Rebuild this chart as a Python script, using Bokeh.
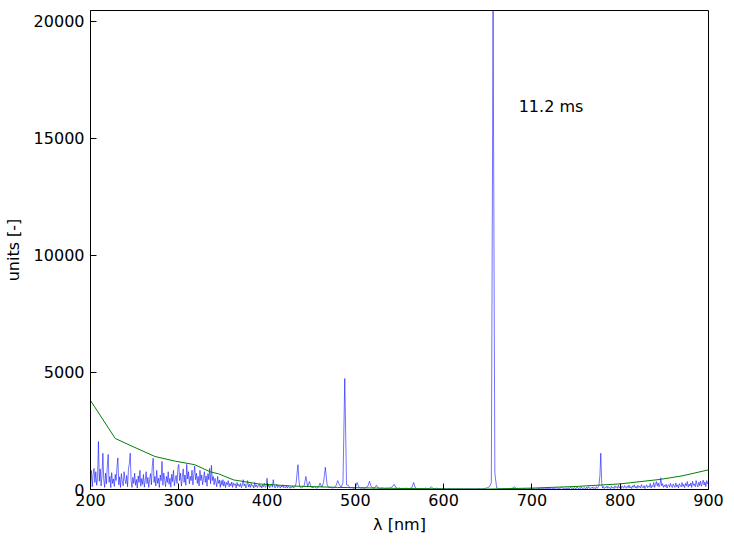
from bokeh.plotting import figure
from bokeh.models import Range1d, FixedTicker, ColumnDataSource
from bokeh.core.properties import value
from bokeh.embed import file_html
from bokeh.resources import INLINE

# ---------------- data ----------------
# segment A: 200..440 nm, 1 nm sampling
seg_a_start, seg_a_step = 200, 1
seg_a_vals = [
    250, 820, 120, 640, 900, 300, 760, 180, 520, 2050,   # 200-209
    350, 880, 150, 600, 1550, 420, 90, 700, 240, 980,    # 210-219
    1500, 310, 560, 80, 720, 260, 450, 130, 640, 380,    # 220-229
    950, 1350, 200, 540, 90, 680, 330, 160, 760, 420,    # 230-239
    250, 600, 120, 880, 1100, 1550, 380, 90, 520, 260,   # 240-249
    700, 180, 430, 60, 580, 300, 820, 140, 470, 220,     # 250-259
    640, 100, 380, 760, 250, 520, 90, 430, 680, 200,     # 260-269
    1000, 1340, 300, 560, 150, 820, 260, 480, 90, 620,   # 270-279
    380, 1200, 180, 700, 420, 120, 560, 300, 760, 220,   # 280-289
    480, 100, 650, 340, 820, 160, 420, 600, 260, 900,    # 290-299
    1070, 380, 700, 140, 520, 880, 300, 620, 180, 1070,  # 300-309
    450, 760, 240, 560, 380, 820, 200, 640, 1000, 420,   # 310-319
    700, 260, 560, 150, 820, 380, 620, 200, 480, 760,    # 320-329
    300, 580, 140, 680, 420, 900, 250, 1030, 380, 560,   # 330-339
    200, 480, 320, 120, 560, 260, 400, 90, 380, 180,     # 340-349
    420, 140, 340, 80, 300, 200, 380, 110, 260, 160,     # 350-359
    320, 90, 280, 180, 240, 60, 300, 150, 220, 120,      # 360-369
    260, 80, 200, 420, 150, 240, 60, 180, 380, 110,      # 370-379
    220, 90, 260, 140, 180, 60, 300, 120, 200, 80,       # 380-389
    160, 240, 100, 180, 60, 200, 120, 260, 90, 150,      # 390-399
    480, 120, 200, 80, 160, 240, 100, 420, 180, 60,      # 400-409
    140, 220, 80, 180, 120, 60, 160, 100, 200, 70,       # 410-419
    120, 80, 160, 60, 140, 100, 50, 120, 80, 150,        # 420-429
    60, 100, 140, 300, 700, 1060, 420, 120, 80, 60,      # 430-439
    100,                                                 # 440
]

# segment B: 442..738 nm, 2 nm sampling
seg_b_start, seg_b_step = 442, 2
seg_b_vals = [
    160, 560, 120, 340, 100, 80, 120, 60, 90, 270,       # 442-460
    100, 300, 950, 200, 80, 100, 60, 90, 150, 380,       # 462-480
    200, 90, 300, 4740, 200, 180, 60, 90, 50, 80,        # 482-500
    300, 100, 60, 80, 50, 90, 120, 350, 120, 60,         # 502-520
    80, 180, 60, 40, 60, 50, 40, 60, 50, 80,             # 522-540
    120, 220, 80, 40, 60, 30, 50, 40, 60, 30,            # 542-560
    50, 80, 300, 60, 40, 30, 50, 30, 40, 60,             # 562-580
    30, 50, 120, 40, 30, 60, 30, 40, 20, 40,             # 582-600
    30, 20, 40, 30, 20, 30, 20, 40, 20, 30,             # 602-620
    20, 30, 20, 40, 20, 30, 20, 30, 20, 40,             # 622-640
    20, 30, 40, 60, 80, 120, 300, 20460, 700, 80,        # 642-660
    40, 30, 20, 40, 30, 20, 30, 40, 60, 120,             # 662-680
    50, 30, 40, 20, 30, 40, 20, 30, 50, 30,              # 682-700
    40, 20, 30, 50, 30, 40, 60, 30, 50, 40,              # 702-720
    60, 30, 50, 70, 40, 60, 80, 40, 60,                  # 722-738
]

# segment C: 740..900 nm, 1 nm sampling
seg_c_start, seg_c_step = 740, 1
seg_c_vals = [
    30, 80, 20, 60, 100, 40, 70, 20, 90, 50,             # 740-749
    30, 110, 60, 20, 80, 40, 120, 50, 30, 90,            # 750-759
    60, 20, 100, 40, 130, 70, 30, 90, 50, 110,           # 760-769
    40, 80, 30, 120, 60, 90, 200, 600, 1550, 300,        # 770-779
    60, 130, 40, 100, 70, 150, 50, 120, 80, 30,          # 780-789
    140, 60, 100, 40, 160, 80, 120, 50, 180, 70,         # 790-799
    110, 40, 150, 90, 60, 170, 100, 50, 140, 80,         # 800-809
    190, 60, 120, 40, 160, 100, 200, 70, 130, 50,        # 810-819
    180, 90, 140, 60, 210, 110, 70, 170, 40, 130,        # 820-829
    200, 80, 150, 100, 260, 60, 170, 120, 300, 90,       # 830-839
    220, 340, 150, 280, 110, 200, 500, 160, 250, 90,     # 840-849
    180, 120, 230, 60, 170, 210, 100, 260, 140, 80,      # 850-859
    240, 150, 90, 280, 120, 200, 60, 250, 170, 110,      # 860-869
    300, 130, 220, 80, 260, 160, 340, 100, 230, 150,     # 870-879
    280, 90, 350, 180, 240, 120, 380, 200, 110, 310,     # 880-889
    170, 360, 140, 260, 400, 190, 320, 120, 380, 240,    # 890-899
    300,                                                 # 900
]

# green reference curve
curve_wl = [200, 228, 247, 273, 296, 318, 336, 345, 362, 390, 428,
            480, 540, 600, 650, 700, 750, 800, 845, 870, 900]
curve_vals = [3800, 2180, 1850, 1410, 1210, 1060, 750, 670, 410, 240, 150,
              90, 50, 25, 20, 60, 130, 240, 430, 580, 840]

x_ticks = [200, 300, 400, 500, 600, 700, 800, 900]
y_ticks = [0, 5000, 10000, 15000, 20000]
x_lim = (200, 900)
y_lim = (0, 20460)
annotation = "11.2 ms"
annotation_pos = (685, 16350)
x_label = "λ [nm]"
y_label = "units [-]"

# ---------------- build ----------------
spec_wl, spec_vals = [], []
for start, step, vals in ((seg_a_start, seg_a_step, seg_a_vals),
                          (seg_b_start, seg_b_step, seg_b_vals),
                          (seg_c_start, seg_c_step, seg_c_vals)):
    for i, v in enumerate(vals):
        spec_wl.append(start + step * i)
        spec_vals.append(v)

FONT = "DejaVu Sans"
FS = "16px"
TICK = 6

p = figure(width=734, height=546, output_backend="svg", toolbar_location=None,
           x_range=Range1d(*x_lim), y_range=Range1d(*y_lim),
           min_border_left=88, min_border_right=26, min_border_top=10, min_border_bottom=57)
p.background_fill_color = "white"
p.border_fill_color = "white"
p.outline_line_color = "black"
p.outline_line_width = 1
p.xgrid.visible = False
p.ygrid.visible = False

p.line(spec_wl, spec_vals, color="#0000ff", alpha=0.55, line_width=1)
p.line(curve_wl, curve_vals, color="#008000", line_width=1)

# inward ticks on the top and right edges (clipped to the frame, so only the inner half shows)
p.rect(x=x_ticks, y=[y_lim[1]] * len(x_ticks), width=0, height=2 * TICK,
       height_units="screen", fill_color=None, line_color="black", line_width=1)
p.rect(x=[x_lim[1]] * len(y_ticks), y=y_ticks, width=2 * TICK, height=0,
       width_units="screen", fill_color=None, line_color="black", line_width=1)

src = ColumnDataSource(dict(x=[annotation_pos[0]], y=[annotation_pos[1]], t=[annotation]))
p.text(x="x", y="y", text="t", source=src, text_font=value(FONT), text_font_size=value(FS),
       text_align="left", text_baseline="middle", text_color="black")

def style_axis(ax):
    ax.axis_line_color = "black"
    ax.major_tick_line_color = "black"
    ax.major_tick_in = TICK
    ax.major_tick_out = 0
    ax.minor_tick_line_color = None
    ax.major_label_text_font = FONT
    ax.major_label_text_font_size = FS
    ax.major_label_text_color = "black"
    ax.axis_label_text_font = FONT
    ax.axis_label_text_font_size = FS
    ax.axis_label_text_font_style = "normal"
    ax.axis_label_text_color = "black"

xa = p.xaxis[0]
ya = p.yaxis[0]
xa.ticker = FixedTicker(ticks=x_ticks)
ya.ticker = FixedTicker(ticks=y_ticks)
xa.axis_label = x_label
ya.axis_label = y_label
style_axis(xa)
style_axis(ya)
xa.major_label_standoff = 4
xa.axis_label_standoff = 6
ya.major_label_standoff = 6
ya.axis_label_standoff = 8
ya.major_label_orientation = "horizontal"

open("out.html", "w").write(file_html(p, INLINE))
